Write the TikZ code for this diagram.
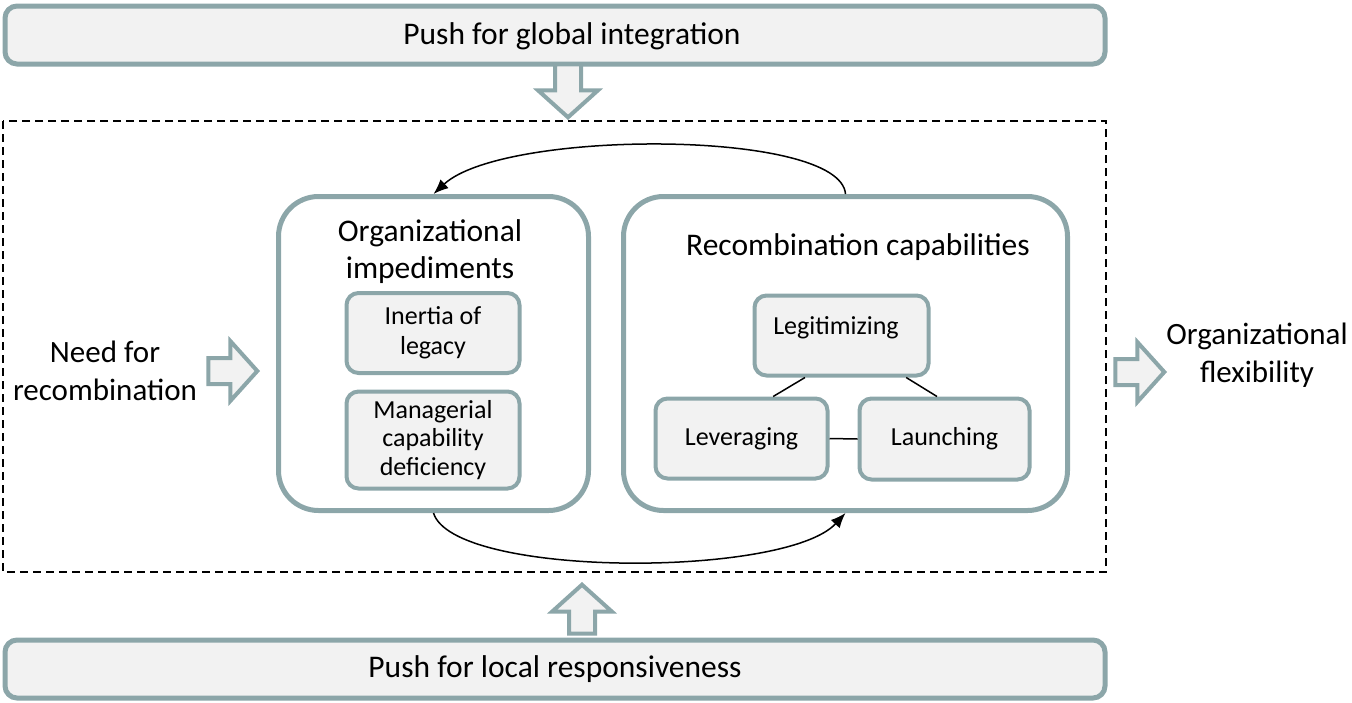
\documentclass[tikz,border=0pt]{standalone}
\usepackage{fontspec}
\setmainfont{Carlito}
\usetikzlibrary{arrows.meta}
\usetikzlibrary{shapes.arrows}
\definecolor{boxline}{RGB}{140,166,169}
\definecolor{boxfill}{RGB}{242,242,242}

\tikzset{
	pushbar/.style={draw=boxline,line width=5pt,fill=boxfill,rounded corners=12pt,
		minimum width=1100pt,minimum height=58pt,font=\fontsize{31.5}{36}\selectfont},
	bigbox/.style={draw=boxline,line width=5pt,rounded corners=40pt,minimum height=314pt},
	smallbox/.style={draw=boxline,line width=4pt,fill=boxfill,rounded corners=12pt,
		align=center,font=\fontsize{26}{30}\selectfont},
	blockarrow/.style={single arrow,draw=boxline,line width=4pt,fill=boxfill,
		inner sep=11pt,single arrow head extend=17pt,single arrow head indent=0pt,
		single arrow tip angle=96,minimum height=49pt,anchor=tip},
	sidelabel/.style={align=center,font=\fontsize{31}{38}\selectfont},
	link/.style={line width=1.5pt},
}

\begin{document}
\begin{tikzpicture}[x=1pt,y=-1pt]
	\useasboundingbox (0,0) rectangle (1352,702);

	% push bars
	\node[pushbar] (global) at (555,35) {};
	\node[font=\fontsize{31.5}{36}\selectfont] (globaltext) at (572,36) {Push for global integration};
	\node[pushbar] (local) at (555,669) {Push for local responsiveness};

	% the firm
	\draw[line width=1.3pt,dash pattern=on 8pt off 5pt] (3,121) rectangle (1106,572);

	\node[blockarrow,shape border rotate=270,minimum height=53pt] (down) at (568,120) {};
	\node[blockarrow,shape border rotate=90] (up) at (582,582) {};
	\node[blockarrow] (in) at (260,371) {};
	\node[blockarrow] (out) at (1167,372) {};

	\node[sidelabel] (need) at (105,371) {Need for\\recombination};
	\node[sidelabel] (flex) at (1257,355) {Organizational\\flexibility};

	% impediments
	\node[bigbox,minimum width=310pt] (imp) at (433.5,353.5) {};
	\node[align=center,font=\fontsize{31.5}{37}\selectfont] (imptitle) at (430,252)
		{Organizational\\impediments};
	\node[smallbox,minimum width=173pt,minimum height=80pt] (inertia) at (433,333)
		{Inertia of\\legacy};
	\node[smallbox,minimum width=173pt,minimum height=97pt,font=\fontsize{26}{28.5}\selectfont]
		(manager) at (433,440) {Managerial\\capability\\deficiency};

	% capabilities
	\node[bigbox,minimum width=444pt] (recomb) at (845.5,353.5) {};
	\node[font=\fontsize{31.5}{36}\selectfont] (rectitle) at (858,247) {Recombination capabilities};
	\node[smallbox,minimum width=174pt,minimum height=80pt] (legit) at (841.5,335.5) {};
	\node[font=\fontsize{26}{30}\selectfont] at (836,328) {Legitimizing};
	\node[smallbox,minimum width=172pt,minimum height=80pt] (lever) at (741.5,438.5) {Leveraging};
	\node[smallbox,minimum width=170pt,minimum height=81pt] (launch) at (944.5,439) {Launching};

	\draw[link] (legit.229) -- (lever.53);
	\draw[link] (legit.327) -- (launch.100);
	\draw[link] (lever.east) -- (launch.west);

	% feedback loop
	\draw[link,-{Latex[length=15pt,width=12pt]}] (recomb.north)
		.. controls +(-5,-65) and +(70,-65) .. (imp.north);
	\draw[link,-{Latex[length=15pt,width=12pt]}] (imp.south)
		.. controls +(20,65) and +(-60,65) .. (recomb.south);
\end{tikzpicture}
\end{document}
